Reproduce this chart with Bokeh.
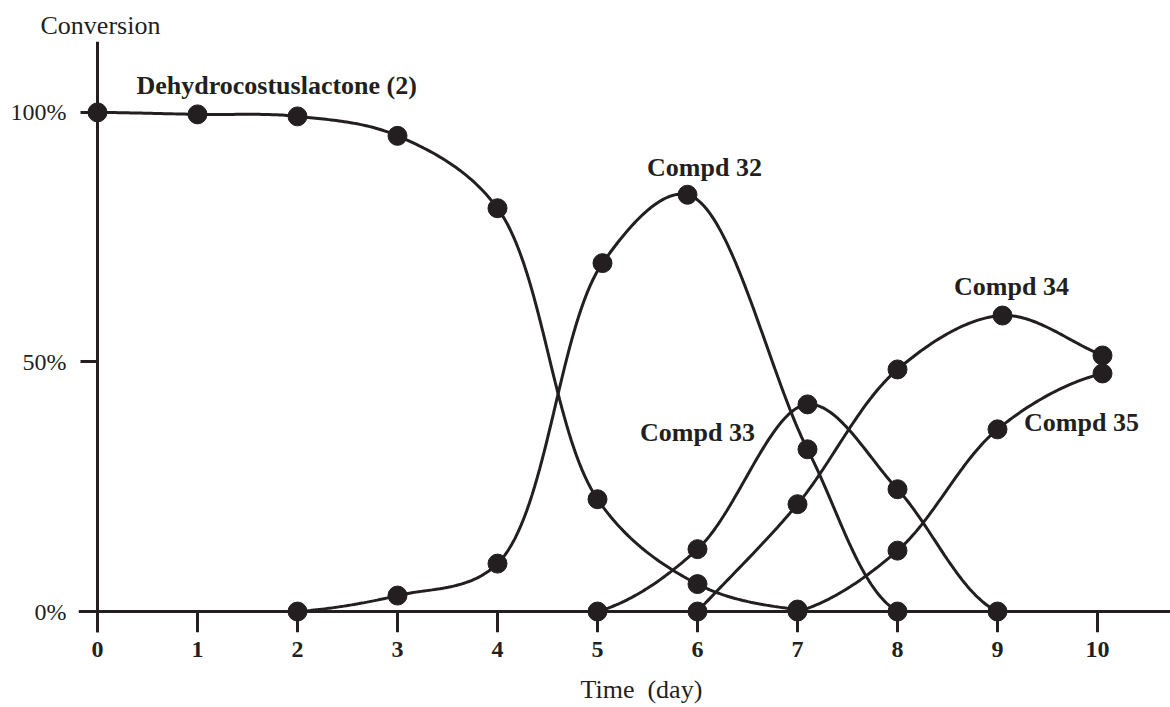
import numpy as np
from bokeh.plotting import figure
from bokeh.models import FixedTicker, LinearAxis, Title
from bokeh.core.properties import value
from bokeh.embed import file_html
from bokeh.resources import INLINE

# ---- data ----
days_2 = [0, 1, 2, 3, 4, 5, 6, 7]
conv_2 = [100, 99.6, 99.2, 95.3, 80.8, 22.5, 5.5, 0.4]

days_32 = [2, 3, 4, 5.05, 5.9, 7.1, 8]
conv_32 = [0, 3.2, 9.6, 69.8, 83.5, 32.5, 0]

days_33 = [5, 6, 7.1, 8, 9]
conv_33 = [0, 12.5, 41.5, 24.5, 0]

days_34 = [6, 7, 8, 9.05, 10.05]
conv_34 = [0, 21.5, 48.5, 59.3, 51.3]

days_35 = [7, 8, 9, 10.05]
conv_35 = [0, 12.2, 36.5, 47.7]

x_ticks = [0, 1, 2, 3, 4, 5, 6, 7, 8, 9, 10]
y_ticks = [0, 50, 100]
y_tick_labels = ["0%", "50%", "100%"]

series_names = ["Dehydrocostuslactone (2)", "Compd 32", "Compd 33", "Compd 34", "Compd 35"]

INK = "#231f20"
SERIF = "Liberation Serif"


def smooth(xs, ys, start_flat=True, end_flat=True, n=40):
    """Centripetal Catmull-Rom curve through the data points (for drawing)."""
    sx, sy = 100.0, 5.0
    P = np.column_stack([np.asarray(xs, float) * sx, np.asarray(ys, float) * sy])
    a = 2 * P[0] - P[1]
    b = 2 * P[-1] - P[-2]
    if start_flat:
        a[1] = P[0][1]
    if end_flat:
        b[1] = P[-1][1]
    P = np.vstack([a, P, b])
    out = []
    for i in range(1, len(P) - 2):
        p0, p1, p2, p3 = P[i - 1], P[i], P[i + 1], P[i + 2]
        t0 = 0.0
        t1 = t0 + np.linalg.norm(p1 - p0) ** 0.5
        t2 = t1 + np.linalg.norm(p2 - p1) ** 0.5
        t3 = t2 + np.linalg.norm(p3 - p2) ** 0.5
        t = np.linspace(t1, t2, n)[:, None]
        A1 = (t1 - t) / (t1 - t0) * p0 + (t - t0) / (t1 - t0) * p1
        A2 = (t2 - t) / (t2 - t1) * p1 + (t - t1) / (t2 - t1) * p2
        A3 = (t3 - t) / (t3 - t2) * p2 + (t - t2) / (t3 - t2) * p3
        B1 = (t2 - t) / (t2 - t0) * A1 + (t - t0) / (t2 - t0) * A2
        B2 = (t3 - t) / (t3 - t1) * A2 + (t - t1) / (t3 - t1) * A3
        C = (t2 - t) / (t2 - t1) * B1 + (t - t1) / (t2 - t1) * B2
        out.append(C if i == 1 else C[1:])
    C = np.vstack(out)
    return C[:, 0] / sx, C[:, 1] / sy


p = figure(width=1170, height=707,
           x_range=(-0.19, 10.73), y_range=(-4.2, 114.2),
           x_axis_location=None, y_axis_location=None,
           output_backend="svg", toolbar_location=None,
           min_border_left=78, min_border_right=0,
           min_border_top=41, min_border_bottom=75)
p.outline_line_color = None
p.xgrid.visible = False
p.ygrid.visible = False
p.background_fill_color = "white"
p.border_fill_color = "white"


def style_line_axis(ax, tick_out):
    ax.axis_line_color = INK
    ax.axis_line_width = 3
    ax.major_tick_line_color = INK
    ax.major_tick_line_width = 3
    ax.major_tick_in = 0
    ax.major_tick_out = tick_out
    ax.minor_tick_line_color = None
    ax.major_label_text_font_size = "0px"
    ax.major_label_text_color = None


def style_label_axis(ax):
    ax.axis_line_color = None
    ax.major_tick_line_color = None
    ax.minor_tick_line_color = None
    ax.major_label_text_font = SERIF
    ax.major_label_text_color = INK


# axis lines + ticks, drawn at the data origin
x_line_axis = LinearAxis(ticker=FixedTicker(ticks=x_ticks), fixed_location=0)
style_line_axis(x_line_axis, 21)
p.add_layout(x_line_axis, "below")

y_line_axis = LinearAxis(ticker=FixedTicker(ticks=y_ticks), fixed_location=0)
style_line_axis(y_line_axis, 17)
p.add_layout(y_line_axis, "left")

# tick labels, in the side panels
x_lab_axis = LinearAxis(ticker=FixedTicker(ticks=x_ticks))
style_label_axis(x_lab_axis)
x_lab_axis.major_label_text_font_style = "bold"
x_lab_axis.major_label_text_font_size = "24px"
x_lab_axis.major_label_standoff = 3
p.add_layout(x_lab_axis, "below")

y_lab_axis = LinearAxis(ticker=FixedTicker(ticks=y_ticks))
style_label_axis(y_lab_axis)
y_lab_axis.major_label_overrides = {t: s for t, s in zip(y_ticks, y_tick_labels)}
y_lab_axis.major_label_text_font_size = "24px"
y_lab_axis.major_label_standoff = 6
p.add_layout(y_lab_axis, "left")

all_days = [days_2, days_32, days_33, days_34, days_35]
all_conv = [conv_2, conv_32, conv_33, conv_34, conv_35]
flat_start = [True, True, True, False, True]
flat_end = [True, True, True, False, True]
for d, c, fs, fe in zip(all_days, all_conv, flat_start, flat_end):
    sx, sy = smooth(d, c, fs, fe)
    p.line(sx, sy, line_color=INK, line_width=3)
    p.scatter(d, c, size=19, fill_color=INK, line_color=INK)

# series labels
lab_x = [0.39, 6.07, 6.0, 9.14, 9.84]
lab_y = [105.4, 89.0, 35.9, 65.1, 37.8]
lab_align = ["left", "center", "center", "center", "center"]
p.text(x=lab_x, y=lab_y, text=series_names, text_align=lab_align,
       text_baseline="middle", text_font=value(SERIF), text_font_style="bold",
       text_font_size="26px", text_color=INK)

p.add_layout(Title(text="Conversion", align="left", offset=-38,
                   text_font=SERIF, text_font_style="normal",
                   text_font_size="26px", text_color=INK, standoff=4), "above")
# small blank spacer between tick labels and the axis title
p.add_layout(Title(text=" ", text_font_size="8px", standoff=0), "below")
p.add_layout(Title(text="Time\u00a0 (day)", align="left", offset=502,
                   text_font=SERIF, text_font_style="normal",
                   text_font_size="26px", text_color=INK, standoff=4), "below")

open("out.html", "w").write(file_html(p, INLINE))
